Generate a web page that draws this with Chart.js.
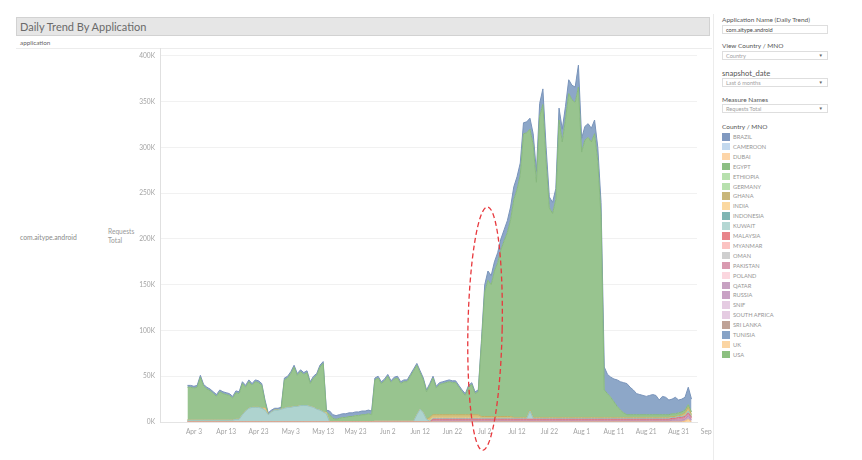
<!DOCTYPE html>
<html>
<head>
<meta charset="utf-8">
<script src="https://cdn.jsdelivr.net/npm/chart.js@4.4.1/dist/chart.umd.min.js"></script>
<style>
  html, body { margin:0; padding:0; background:#fff; }
  body { width:862px; height:460px; position:relative; overflow:hidden; font-family: Lato, "Open Sans", sans-serif; }
  .abs { position:absolute; white-space:nowrap; }
  #titlebar { left:16px; top:17px; width:694px; height:19px; background:#e6e6e6; border:1px solid #d2d2d2; box-sizing:border-box; }
  #title { left:20px; top:18px; font-size:11px; color:#6a6a6a; line-height:17px; }
  .small { font-size:6.3px; color:#777; }
  .ftitle { left:722px; font-size:6.5px; color:#555; }
  .fbox { left:722px; width:106px; height:9px; border:1px solid #dedede; box-sizing:border-box; font-size:5.6px; color:#a0a0a0; line-height:7px; padding-left:3px; }
  .arrow { position:absolute; right:4px; top:0px; font-size:4.5px; color:#666; }
  .legrow { left:722px; height:9px; font-size:5.7px; color:#959595; }
  .sw { display:inline-block; width:7.5px; height:7.5px; vertical-align:top; margin-right:3.5px; }
  canvas { position:absolute; left:100px; top:40px; }
</style>
</head>
<body>
<div id="titlebar" class="abs"></div>
<div id="title" class="abs">Daily Trend By Application</div>
<div class="abs small" style="left:20px;top:39px;color:#666;">application</div>
<div class="abs" style="left:16px;top:48px;width:696px;height:1px;background:#ececec;"></div>
<div class="abs small" style="left:20px;top:233px;color:#8a8a8a;font-size:6.8px;">com.aitype.android</div>
<div class="abs small" style="left:108px;top:227px;color:#999;line-height:9px;font-size:6.6px;">Requests<br>Total</div>
<div class="abs" style="left:713px;top:14px;width:1px;height:446px;background:#ececec;"></div>

<div class="abs ftitle" style="top:16px;">Application Name (Daily Trend)</div>
<div class="abs fbox" style="top:25px;color:#444;">com.aitype.android</div>
<div class="abs ftitle" style="top:42px;">View Country / MNO</div>
<div class="abs fbox" style="top:51px;">Country<span class="arrow">&#9660;</span></div>
<div class="abs ftitle" style="top:68px;font-size:7.6px;">snapshot_date</div>
<div class="abs fbox" style="top:78px;">Last 6 months<span class="arrow">&#9660;</span></div>
<div class="abs ftitle" style="top:96px;">Measure Names</div>
<div class="abs fbox" style="top:104px;">Requests Total<span class="arrow">&#9660;</span></div>
<div class="abs ftitle" style="top:123px;">Country / MNO</div>
<div id="legend"></div>

<canvas id="c" width="612" height="415"></canvas>

<script>
// ---- categories ----
const countries = ['BRAZIL','CAMEROON','DUBAI','EGYPT','ETHIOPIA','GERMANY','GHANA','INDIA','INDONESIA','KUWAIT','MALAYSIA','MYANMAR','OMAN','PAKISTAN','POLAND','QATAR','RUSSIA','SNIF','SOUTH AFRICA','SRI LANKA','TUNISIA','UK','USA'];
const legendColors = ['#8099c0','#c3d9ee','#fdd5a8','#8cbf84','#b7e0ae','#b7e0ae','#c9b67a','#fbd8a0','#7fb5b3','#b5d7d3','#e8848a','#fbc3c2','#cfcfcf','#d99ab0','#fbd7df','#c7a2c2','#c9a2c5','#e5cce2','#e5cce2','#bfa397','#87a3c6','#fbd5a3','#8cc080'];
const startDate = '2019-04-01';   // day 0 of the series (daily, Apr 1 .. Sep 4)

// ---- x tick labels (day index from Apr 1) ----
const tickDays   = [2,12,22,32,42,52,62,72,82,92,102,112,122,132,142,152,162];
const tickLabels = ['Apr 3','Apr 13','Apr 23','May 3','May 13','May 23','Jun 2','Jun 12','Jun 22','Jul 2','Jul 12','Jul 22','Aug 1','Aug 11','Aug 21','Aug 31','Sep 10'];
const yTicks = [0,50,100,150,200,250,300,350,400]; // thousands

// ---- series values (Requests Total, thousands per day) ----
const brazil = [
2,2,2,2,2,2,2,2,2,2,2,2,2,2,2,
2,2,2,2,2,2,2,2,2,2,2,2,2,2,2,
2,2,2,2,2,2,2,2,2,2,2,2,2,2,
4,4,4,4,4,4,4,4,4,4,4,4,4,4,
2,2,2,2,2,2,2,2,2,2,2,2,2,2,2,
2,2,2,2,2,2,2,2,2,2,2,2,2,2,2,
2,2,2,
4,8,10,10,10,11,12,12,13,14,
14,14,13,12,12,12,12,12,14,17,
16,12,12,12,13,14,14,15,16,17,
24,15,15,15,15,15,15,15,
25,21,22,25,29,31,33,34,30,27,
23,22,21,20,21,22,21,16,20,19,
16,16,18,14,14,14,19,14];
const egypt = [
36,36,35,36,47,37,34,32,29,26,31,29,28,27,24,
29,28,34,26,29,24,28,27,25,7,0,0,0,0,0,
31,32,37,43,34,37,34,36,25,32,37,47,53,1,
8,4,3,4,5,5,6,6,7,7,8,8,9,8,
45,47,41,44,49,42,46,47,41,43,43,49,55,54,40,36,30,
35,40,29,33,34,35,36,35,35,30,25,21,30,33,23,25,
80,136,149,144,159,168,182,192,201,215,
238,249,265,310,311,307,298,257,329,342,
279,229,223,238,325,301,326,354,347,344,
361,290,303,306,301,310,280,220,
30,26,22,17,12,8,5,3,
3,3,3,3,3,3,3,3,3,3,3,3,3,3,3,3,3,3,3,3];
const ghana = [
0,0,0,0,0,0,0,0,0,0,0,0,0,0,0,
0,0,0,0,0,0,0,0,0,0,0,0,0,0,0,
0,0,0,0,0,0,0,0,0,0,0,0,0,0,0,
0,0,0,0,0,0,0,0,0,0,0,0,0,0,0,
0,0,0,0,0,0,0,0,0,0,0,0,0,0,0,
3,3,3,3,3,3,3,3,3,3,3,3,3,3,3,3,
2,2,2,2,2,2,2,2,2,2,
1,1,1,1,1,1,1,1,1,1,1,1,1,
1,1,1,1,1,1,1,1,1,1,1,1,1,
1,1,1,1,1,1,1,1,1,1,1,1,1,
1,1,1,1,1,1,1,1,1,1,1,1,1,
2,3,4,2];
const india = [
0,0,0,0,0,0,0,0,0,0,0,0,0,0,0,
0,0,0,0,0,0,0,0,0,2,0,0,0,0,0,
0,0,0,0,0,0,0,0,0,0,0,0,0,1,
0,0,0,0,0,0,0,0,0,0,0,0,0,0,
0,0,0,0,0,0,0,0,0,0,0,0,0,0,0,0,0,
1,1,1,1,1,1,1,1,1,1,1,1,1,1,1,1,
0,0,0,0,0,0,0,0,0,0,
0,0,0,0,0,0,0,0,0,0,
0,0,0,0,0,0,0,0,0,0,
0,0,0,0,0,0,0,0,
0,0,0,0,0,0,0,0,0,0,
0,0,0,0,0,0,0,0,0,0,
0,0,0,0,0,0,0,0];
const kuwait = [
2,2,2,2,2,2,2,2,2,2,2,2,2,2,2,
3,3,8,12,15,16,16,16,15,13,8,11,13,13,14,
15,16,16,17,17,18,18,18,17,16,14,13,11,9,
0,0,0,0,0,0,0,0,0,0,0,0,0,0,
1,1,1,1,1,1,1,1,1,1,1,1,1,8,14,10,3,
1,1,1,1,1,1,1,1,1,1,1,1,1,1,1,1,
1,1,1,1,1,1,1,1,1,1,
1,1,1,1,1,9,1,1,1,1,
1,1,1,1,1,1,1,1,1,1,
1,1,1,1,1,1,1,1,
1,1,1,1,1,1,1,1,1,1,
1,1,1,1,1,1,1,1,1,1,
1,1,1,1,1,1,2,1];
const malaysia = [
0,0,0,0,0,0,0,0,0,0,0,0,0,0,0,
0,0,0,0,0,0,0,0,0,0,0,0,0,0,0,
0,0,0,0,0,0,0,0,0,0,0,0,0,0,0,
0,0,0,0,0,0,0,0,0,0,0,0,0,0,0,
0,0,0,0,0,0,0,0,0,0,0,0,0,0,0,0,
1,1,1,1,1,1,1,1,1,1,1,1,1,1,1,
1,1,1,1,1,1,1,1,1,1,1,1,1,1,1,
1,1,1,1,1,1,1,1,1,1,1,1,1,1,1,
1,1,1,1,1,1,1,1,1,1,1,1,1,1,1,
1,1,1,1,1,1,1,1,1,1,1,1,1,1,1,
1,1,1,1,1,1];
const pakistan = [
0,0,0,0,0,0,0,0,0,0,0,0,0,0,0,
0,0,0,0,0,0,0,0,0,0,0,0,0,0,0,
0,0,0,0,0,0,0,0,0,0,0,0,0,0,0,
0,0,0,0,0,0,0,0,0,0,0,0,0,0,0,
0,0,0,0,0,0,0,0,0,0,0,0,0,0,0,0,
1,1,1,1,1,1,1,1,1,1,1,1,1,1,1,
1,1,1,1,1,1,1,1,1,1,1,1,1,1,1,
1,1,1,1,1,1,1,1,1,1,1,1,1,1,1,
1,1,1,1,1,1,1,1,1,1,1,1,1,1,1,
1,1,1,1,1,1,1,1,1,1,1,1,1,1,1,
1,2,2,2,2,2];
const qatar = [
0,0,0,0,0,0,0,0,0,0,0,0,0,0,0,
0,0,0,0,0,0,0,0,0,0,0,0,0,0,0,
0,0,0,0,0,0,0,0,0,0,0,0,0,0,0,
0,0,0,0,0,0,0,0,0,0,0,0,0,0,0,
0,0,0,0,0,0,0,0,0,0,0,0,0,0,0,0,
1,1,1,1,1,1,1,1,1,1,1,1,1,1,1,
1,1,1,1,1,1,1,1,1,1,1,1,1,1,1,
1,1,1,1,1,1,1,1,1,1,1,1,1,1,1,
1,1,1,1,1,1,1,1,1,1,1,1,1,1,1,
1,1,1,1,1,1,1,1,1,1,1,1,1,1,2,
2,2,2,2,4,2];
const uk = [
0,0,0,0,0,0,0,0,0,0,0,0,0,0,0,
0,0,0,0,0,0,0,0,0,0,0,0,0,0,0,
0,0,0,0,0,0,0,0,0,0,0,0,0,0,0,
0,0,0,0,0,0,0,0,0,0,0,0,0,0,0,
0,0,0,0,0,0,0,0,0,0,0,0,0,0,0,
0,0,0,0,0,0,0,0,0,0,0,0,0,0,0,
0,0,0,0,0,0,0,0,0,0,0,0,0,0,0,
0,0,0,0,0,0,0,0,0,0,0,0,0,0,0,
0,0,0,0,0,0,0,0,0,0,0,0,0,0,0,
0,0,0,0,0,0,0,0,0,0,0,0,0,0,0,
0,0,0,0,1,3,0];

// series in stacking order, bottom -> top
const seriesNames  = ['UK','QATAR','PAKISTAN','MALAYSIA','KUWAIT','INDIA','GHANA','EGYPT','BRAZIL'];
const seriesValues = [uk, qatar, pakistan, malaysia, kuwait, india, ghana, egypt, brazil];
const seriesFill   = ['#fbd5a3','#c9a7c5','#dca1b7','#e98f93','#aed3cf','#f9d49c','#d2c27f','#98c48f','#8da7c8'];
const seriesLine   = ['#f2c07f','#b98fb3','#d1879f','#e06e74','#95c4bf','#efc07a','#c2ae62','#87b87e','#7893ba'];

// ---- HTML legend ----
const leg = document.getElementById('legend');
countries.forEach((c, i) => {
  const d = document.createElement('div');
  d.className = 'abs legrow';
  d.style.top = (133 + i * 9.9) + 'px';
  d.innerHTML = '<span class="sw" style="background:' + legendColors[i] + '"></span>' + c;
  leg.appendChild(d);
});

// ---- chart ----
const datasets = seriesNames.map((n, i) => ({
  label: n,
  data: seriesValues[i].map((v, d) => ({ x: d, y: v })),
  backgroundColor: seriesFill[i],
  borderColor: seriesLine[i],
  borderWidth: 1,
  pointRadius: 0,
  tension: 0,
  fill: i === 0 ? 'origin' : '-1'
}));

const ellipsePlugin = {
  id: 'ellipse',
  afterDraw(chart) {
    const xs = chart.scales.x, ys = chart.scales.y, ctx = chart.ctx;
    const cx = xs.getPixelForValue(92.1), cy = ys.getPixelForValue(102);
    const rx = xs.getPixelForValue(97.4) - cx, ry = cy - ys.getPixelForValue(235);
    ctx.save();
    ctx.strokeStyle = '#e8383d';
    ctx.lineWidth = 1.3;
    ctx.setLineDash([5, 3]);
    ctx.beginPath();
    ctx.ellipse(cx, cy, rx, ry, 0.02, 0, Math.PI * 2);
    ctx.stroke();
    ctx.restore();
  }
};

const tickFont = { family: 'Lato', size: 6.6 };
new Chart(document.getElementById('c'), {
  type: 'line',
  data: { datasets },
  plugins: [ellipsePlugin],
  options: {
    responsive: false,
    animation: false,
    layout: { padding: { top: 8, right: 15, bottom: 8, left: 0 } },
    plugins: { legend: { display: false }, tooltip: { enabled: false } },
    scales: {
      x: {
        type: 'linear', min: -8.5, max: 157.7,
        grid: { display: false, drawTicks: false },
        border: { display: true, color: '#e4e4e4' },
        ticks: {
          autoSkip: false, maxRotation: 0, padding: 6, color: '#a3a3a3', font: tickFont,
          callback: (v) => tickLabels[tickDays.indexOf(v)]
        },
        afterBuildTicks: s => { s.ticks = tickDays.map(v => ({ value: v })); },
        afterFit: s => { s.height = 25; s.paddingLeft = 0; s.paddingRight = 0; }
      },
      y: {
        stacked: true, min: 0, max: 408.7,
        grid: { color: '#f1f1f1', drawTicks: false },
        border: { display: true, color: '#e0e0e0' },
        ticks: { padding: 5, color: '#a3a3a3', font: tickFont, callback: v => v + 'K' },
        afterBuildTicks: s => { s.ticks = yTicks.map(v => ({ value: v })); },
        afterFit: s => { s.width = 60; s.paddingTop = 0; s.paddingBottom = 0; }
      }
    }
  }
});
</script>
</body>
</html>
